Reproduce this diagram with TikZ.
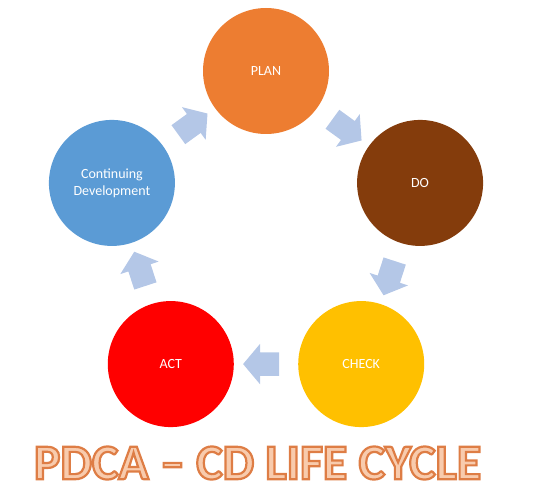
\documentclass[tikz,border=0pt]{standalone}
\usepackage{fontspec}
\setmainfont{Carlito}
\usetikzlibrary{calc,shapes.arrows}

\definecolor{planorange}{RGB}{237,125,49}
\definecolor{dobrown}{RGB}{132,60,12}
\definecolor{checkyellow}{RGB}{255,192,0}
\definecolor{actred}{RGB}{255,0,0}
\definecolor{cdblue}{RGB}{91,155,213}
\definecolor{arrowblue}{RGB}{180,199,231}
\definecolor{titlefill}{RGB}{248,203,173}

% outlined text: fill + stroke render mode
\newcommand{\outlinetext}[1]{%
  \textcolor{titlefill}{\special{pdf:literal direct 0.87 0.49 0.27 RG 2 Tr 2.2 w}#1\special{pdf:literal direct 0 Tr}}}

\tikzset{
  phase/.style={circle, minimum size=126pt, inner sep=0pt, text=white,
    font=\fontsize{14}{17}\selectfont, align=center},
  cyclearrow/.style={single arrow, fill=arrowblue, inner xsep=0pt,
    inner ysep=11.5pt, minimum height=36pt,
    single arrow head extend=8.5pt, single arrow tip angle=100}
}

\begin{document}
\begin{tikzpicture}[x=1pt, y=1pt]
    \useasboundingbox (0,0) rectangle (541,491);

    % centre of the cycle
    \coordinate (mid) at (266,258);

    \node [phase, fill=planorange]  (plan)  at ($(mid)+(90:162)$)  {PLAN};
    \node [phase, fill=dobrown]     (do)    at ($(mid)+(18:162)$)  {DO};
    \node [phase, fill=checkyellow] (check) at ($(mid)+(-54:162)$) {CHECK};
    \node [phase, fill=actred]      (act)   at ($(mid)+(-126:162)$) {ACT};
    \node [phase, fill=cdblue]      (cd)    at ($(mid)+(162:162)$) {Continuing\\Development};

    \node [cyclearrow, rotate=36]   at ($(cd)!.5!(plan)$)    {};
    \node [cyclearrow, rotate=-36]  at ($(plan)!.5!(do)$)    {};
    \node [cyclearrow, rotate=-108] at ($(do)!.5!(check)$)   {};
    \node [cyclearrow, rotate=180]  at ($(check)!.5!(act)$)  {};
    \node [cyclearrow, rotate=108]  at ($(act)!.5!(cd)$)     {};

    \node [inner sep=0pt] (title) at (257.5,28)
      {\fontsize{50}{50}\selectfont\bfseries\outlinetext{PDCA -- CD LIFE CYCLE}};
\end{tikzpicture}
\end{document}
